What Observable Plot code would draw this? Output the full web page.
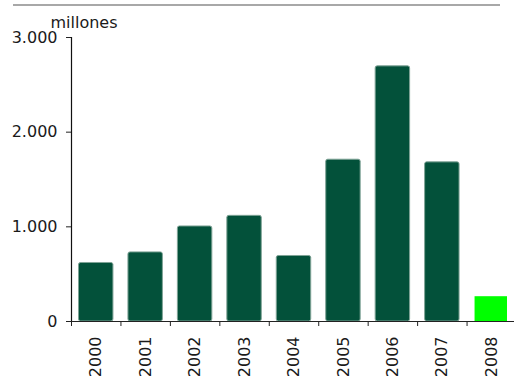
<!DOCTYPE html>
<html>
<head>
<meta charset="utf-8">
<script src="https://cdn.jsdelivr.net/npm/d3@7"></script>
<script src="https://cdn.jsdelivr.net/npm/@observablehq/plot@0.6"></script>
<style>
  html, body { margin: 0; padding: 0; background: #fff; overflow: hidden; }
  #wrap { position: relative; width: 514px; height: 376px; }
  #topline { position: absolute; left: 13px; top: 4px; width: 487px; height: 0; border-top: 2px solid #a8a8a8; }
  #chart { position: absolute; left: 0; top: 0; }
</style>
</head>
<body>
<div id="wrap">
  <div id="chart"></div>
  <div id="topline"></div>
</div>
<script>
const years = [2000, 2001, 2002, 2003, 2004, 2005, 2006, 2007, 2008];
const values = [618, 730, 1004, 1116, 692, 1709, 2695, 1681, 262];
const yTicks = [0, 1000, 2000, 3000];
const yLabel = "millones";
const highlightYear = 2008;

const data = years.map((year, i) => ({ year, value: values[i] }));
const boundaries = years.map(y => y - 0.5);
const fmt = d3.formatLocale({ decimal: ",", thousands: ".", grouping: [3], currency: ["", " €"] }).format(",");

const chart = Plot.plot({
  width: 514,
  height: 376,
  marginLeft: 71,
  marginTop: 37,
  marginBottom: 55,
  marginRight: -2,
  style: { fontFamily: "DejaVu Sans", fontSize: "16px", color: "#1a1a1a", background: "#fff" },
  x: { type: "linear", domain: [years[0] - 0.5, years[years.length - 1] + 0.5] },
  y: { domain: [0, 3000] },
  marks: [
    Plot.rectY(data.filter(d => d.year !== highlightYear), {
      x1: d => d.year - 0.5, x2: d => d.year + 0.5, y: "value",
      insetLeft: 7.5, insetRight: 7.5,
      fill: "#03513a", stroke: "#7fa396", strokeWidth: 1, rx: 2
    }),
    Plot.rectY(data.filter(d => d.year === highlightYear), {
      x1: d => d.year - 0.5, x2: d => d.year + 0.5, y: "value",
      insetLeft: 8, insetRight: 9,
      fill: "#00ff00"
    }),
    Plot.axisY(yTicks, { tickSize: 5, tickPadding: 9, tickFormat: fmt, label: null, stroke: "#222" }),
    Plot.axisX(years, { tickSize: 0, tickPadding: 15, tickRotate: -90, tickFormat: d => String(d), label: null }),
    Plot.axisX(boundaries, { tickSize: 5, tickFormat: () => "", label: null, stroke: "#222" }),
    Plot.frame({ anchor: "left", stroke: "#111", strokeWidth: 1.2 }),
    Plot.ruleY([0], { stroke: "#222", strokeWidth: 1.2 }),
    Plot.text([yLabel], {
      x: () => years[0] - 0.5, y: () => yTicks[yTicks.length - 1], text: d => d,
      dx: -21, dy: -10, textAnchor: "start", lineAnchor: "bottom", fill: "#1a1a1a", fontSize: 16
    })
  ]
});
document.getElementById("chart").appendChild(chart);
</script>
</body>
</html>
